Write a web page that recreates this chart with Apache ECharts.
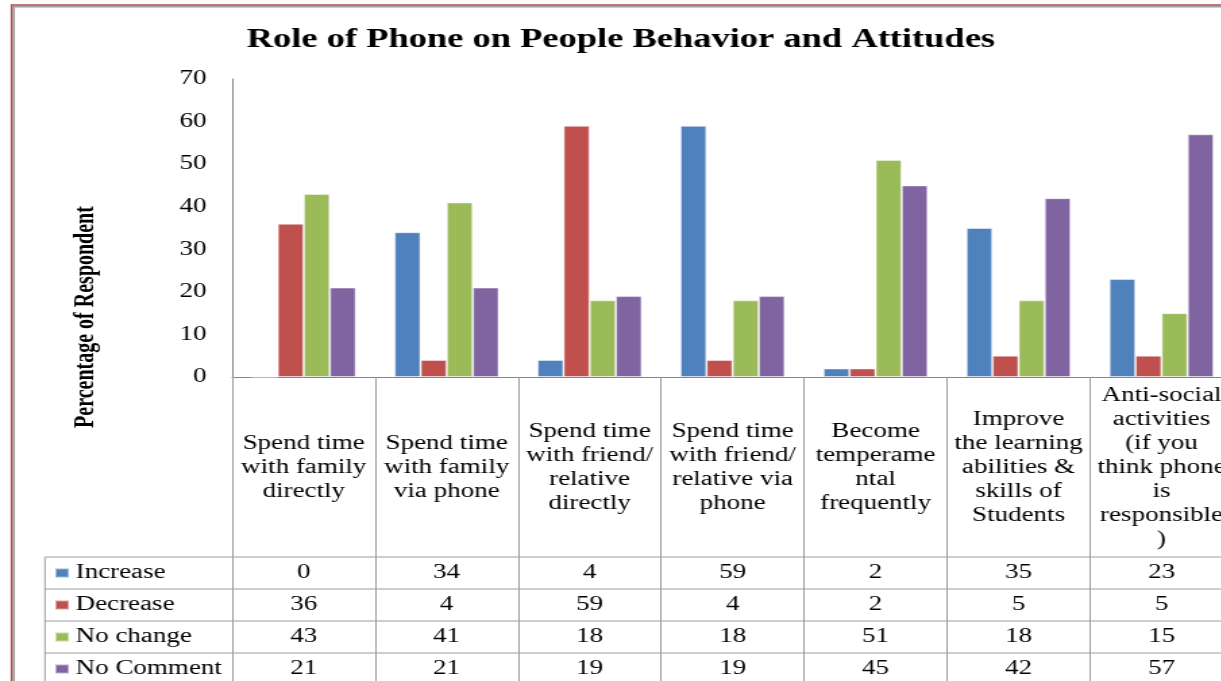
<!DOCTYPE html>
<html><head><meta charset="utf-8">
<script src="https://cdn.jsdelivr.net/npm/echarts@6/dist/echarts.min.js"></script>
<style>
html,body{margin:0;padding:0;overflow:hidden;background:#fff;width:1221px;height:681px;}
#wrap{position:absolute;left:0;top:0;width:920px;height:681px;transform:scaleX(1.35);transform-origin:0 0;}
</style></head><body><div id="wrap"></div>
<script>
const chartTitle = 'Role of Phone on People Behavior and Attitudes';
const yAxisTitle = 'Percentage of Respondent';
const categories = [
  'Spend time\nwith family\ndirectly',
  'Spend time\nwith family\nvia phone',
  'Spend time\nwith friend/\nrelative\ndirectly',
  'Spend time\nwith friend/\nrelative via\nphone',
  'Become\ntemperame\nntal\nfrequently',
  'Improve\nthe learning\nabilities &\nskills of\nStudents',
  'Anti-social\nactivities\n(if you\nthink phone\nis\nresponsible\n)'
];
const seriesNames = ['Increase', 'Decrease', 'No change', 'No Comment'];
const increase  = [0, 34, 4, 59, 2, 35, 23];
const decrease  = [36, 4, 59, 4, 2, 5, 5];
const noChange  = [43, 41, 18, 18, 51, 18, 15];
const noComment = [21, 21, 19, 19, 45, 42, 57];
const yMin = 0, yMax = 70, yStep = 10;

const seriesValues = [increase, decrease, noChange, noComment];
const colors = ['#4F81BD', '#C0504D', '#9BBB59', '#8064A2'];
const FONT = 'Liberation Serif';
const LINE = '#9d9d9d';

const chart = echarts.init(document.getElementById('wrap'), null, {renderer: 'canvas'});

const gridTop = 79, gridBottomY = 377, tableTop = 557, rowH = 32;
const rowCenters = [0,1,2,3].map(i => tableTop + rowH * i + rowH / 2);

const xAxes = [{
  type: 'category', data: categories, gridIndex: 0, position: 'bottom',
  axisLine: {onZero: false, lineStyle: {color: '#868686', width: 1}},
  axisTick: {show: true, alignWithLabel: false, interval: 0, length: 308, lineStyle: {color: LINE, width: 1}},
  axisLabel: {interval: 0, margin: 91, verticalAlign: 'middle', lineHeight: 24, fontSize: 20,
    fontFamily: FONT, color: '#000', align: 'center', hideOverlap: false}
}];
seriesValues.forEach((vals, i) => {
  xAxes.push({
    type: 'category', data: vals.map(v => String(v)), gridIndex: 0, position: 'bottom',
    offset: rowCenters[i] - gridBottomY,
    axisLine: {show: false, onZero: false}, axisTick: {show: false},
    axisLabel: {interval: 0, margin: 0, verticalAlign: 'middle', fontSize: 20, fontFamily: FONT, color: '#000', hideOverlap: false}
  });
});

const graphics = [
  {type: 'text', x: 63.7, y: 317, rotation: Math.PI / 2,
   style: {text: yAxisTitle, fill: '#000', fontSize: 20, fontWeight: 'bold', fontFamily: FONT, align: 'center', verticalAlign: 'middle'}},
  {type: 'rect', shape: {x: 8.7, y: 5, width: 3000, height: 3000}, style: {fill: null, stroke: '#b04848', lineWidth: 1.6}},
  {type: 'rect', shape: {x: 10.3, y: 6.8, width: 3000, height: 3000}, style: {fill: null, stroke: '#a0a0a0', lineWidth: 1.4}},
  {type: 'line', shape: {x1: 33.3, y1: tableTop, x2: 33.3, y2: 700}, style: {stroke: LINE, lineWidth: 1}}
];
[0,1,2,3].forEach(i => {
  graphics.push({type: 'line', shape: {x1: 33.3, y1: tableTop + rowH * i, x2: 913.3, y2: tableTop + rowH * i},
    style: {stroke: LINE, lineWidth: 1}});
});

chart.setOption({
  animation: false,
  backgroundColor: '#fff',
  title: {text: chartTitle, left: 'center', top: 27, padding: 0,
    textStyle: {fontSize: 27, fontWeight: 'bold', fontFamily: FONT, color: '#000'}},
  legend: {
    data: seriesNames.map(n => ({name: n, icon: 'rect'})),
    orient: 'vertical', left: 40, top: tableTop + 4, height: 124, padding: 0, itemGap: 8,
    itemWidth: 10, itemHeight: 9, selectedMode: false,
    textStyle: {fontSize: 20, fontFamily: FONT, color: '#000', lineHeight: 24}
  },
  grid: {left: 172, right: 920 - 913.33, top: gridTop, bottom: 681 - gridBottomY, containLabel: false},
  xAxis: xAxes,
  yAxis: {
    type: 'value', min: yMin, max: yMax, interval: yStep,
    axisLine: {show: true, lineStyle: {color: '#868686', width: 1}},
    axisTick: {show: false}, splitLine: {show: false},
    axisLabel: {fontSize: 20, fontFamily: FONT, color: '#000', margin: 19}
  },
  series: seriesNames.map((n, i) => ({
    name: n, type: 'bar', xAxisIndex: 0, yAxisIndex: 0,
    data: seriesValues[i], barGap: '0%', barCategoryGap: '27%',
    itemStyle: {color: colors[i], borderColor: 'rgba(255,255,255,0.45)', borderWidth: 1}
  })),
  graphic: graphics
});
</script></body></html>
